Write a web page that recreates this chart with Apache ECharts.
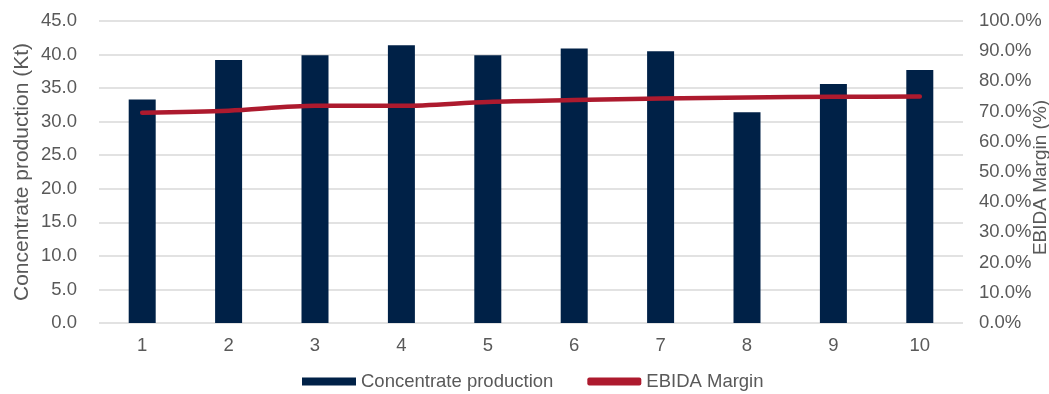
<!DOCTYPE html>
<html>
<head>
<meta charset="utf-8">
<script src="https://cdn.jsdelivr.net/npm/echarts@6/dist/echarts.min.js"></script>
<style>
  html, body { margin: 0; padding: 0; background: #ffffff; }
  #chart { width: 1049px; height: 394px; }
</style>
</head>
<body>
<div id="chart"></div>
<script>
// Categories (periods) and series values
const categories = ['1', '2', '3', '4', '5', '6', '7', '8', '9', '10'];
const concentrateProduction = [33.3, 39.2, 39.9, 41.4, 39.9, 40.9, 40.5, 31.4, 35.6, 37.7]; // Kt
const ebidaMargin = [69.6, 70.3, 71.9, 71.9, 73.2, 73.8, 74.3, 74.7, 74.9, 75.0];             // %

const textColor = '#595959';
const fontFamily = '"Liberation Sans", Arial, sans-serif';
const labelSize = 18.5;

const chart = echarts.init(document.getElementById('chart'));
chart.setOption({
  animation: false,
  textStyle: { fontFamily: fontFamily, color: textColor },
  grid: { left: 99, right: 86, top: 21, bottom: 71, containLabel: false, outerBoundsMode: 'none' },
  legend: {
    top: 367,
    left: 297,
    itemWidth: 54,
    itemHeight: 8,
    itemGap: 34,
    textStyle: { color: textColor, fontSize: labelSize, fontFamily: fontFamily },
    data: [
      { name: 'Concentrate production', icon: 'rect' },
      { name: 'EBIDA Margin', icon: 'roundRect' }
    ]
  },
  xAxis: {
    type: 'category',
    data: categories,
    axisLine: { show: false },
    axisTick: { show: false },
    axisLabel: { color: textColor, fontSize: labelSize, margin: 13 }
  },
  yAxis: [
    {
      type: 'value',
      min: 0, max: 45, interval: 5,
      name: 'Concentrate production (Kt)',
      nameLocation: 'middle',
      nameGap: 66,
      nameMoveOverlap: false,
      nameTextStyle: { color: textColor, fontSize: 21 },
      axisLine: { show: false },
      axisTick: { show: false },
      axisLabel: {
        color: textColor, fontSize: labelSize, margin: 22,
        formatter: v => v.toFixed(1)
      },
      splitLine: { lineStyle: { color: '#d9d9d9', width: 1.5 } }
    },
    {
      type: 'value',
      min: 0, max: 100, interval: 10,
      name: 'EBIDA Margin (%)',
      nameLocation: 'middle',
      nameGap: 68,
      nameRotate: 90,
      nameMoveOverlap: false,
      nameTextStyle: { color: textColor, fontSize: 19, padding: [0, 11, 0, 0] },
      axisLine: { show: false },
      axisTick: { show: false },
      axisLabel: {
        color: textColor, fontSize: labelSize, margin: 16,
        formatter: v => v.toFixed(1) + '%'
      },
      splitLine: { show: false }
    }
  ],
  series: [
    {
      name: 'Concentrate production',
      type: 'bar',
      yAxisIndex: 0,
      data: concentrateProduction,
      barWidth: 27,
      itemStyle: { color: '#002147' }
    },
    {
      name: 'EBIDA Margin',
      type: 'line',
      yAxisIndex: 1,
      data: ebidaMargin,
      smooth: 0.3,
      symbol: 'none',
      lineStyle: { color: '#AD1A2E', width: 4.5, cap: 'round' },
      itemStyle: { color: '#AD1A2E' }
    }
  ]
});
</script>
</body>
</html>
